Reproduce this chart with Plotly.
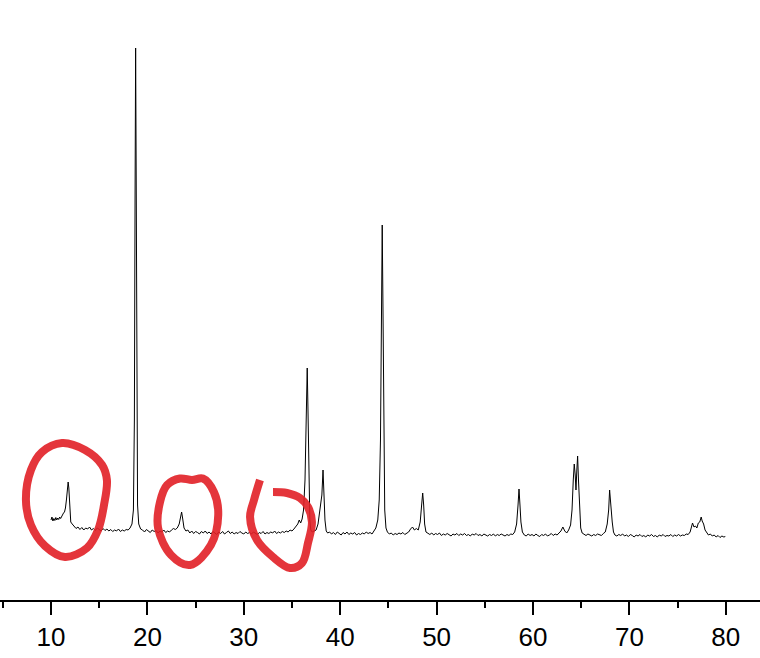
import plotly.graph_objects as go

# XRD scan, 2theta (deg) vs intensity (counts)
two_theta = [
    10.0, 10.1, 10.2, 10.3, 10.4, 10.5, 10.6, 10.7, 10.8, 10.9, 11.0, 11.1, 11.2, 11.3, 11.4, 11.5,
    11.6, 11.7, 11.78, 11.85, 11.95, 12.05, 12.2, 12.4, 12.6, 12.8, 13.0, 13.2, 13.4, 13.6, 13.8,
    14.0, 14.2, 14.4, 14.6, 14.8, 15.0, 15.2, 15.4, 15.6, 15.8, 16.0, 16.2, 16.4, 16.6, 16.8, 17.0,
    17.2, 17.4, 17.6, 17.8, 18.0, 18.2, 18.4, 18.55, 18.65, 18.72, 18.78, 18.84, 18.9, 18.98, 19.1,
    19.3, 19.5, 19.7, 19.9, 20.1, 20.3, 20.5, 20.7, 20.9, 21.1, 21.3, 21.5, 21.7, 21.9, 22.1, 22.3,
    22.5, 22.7, 22.9, 23.1, 23.3, 23.45, 23.55, 23.65, 23.8, 24.0, 24.2, 24.4, 24.6, 24.8, 25.0,
    25.2, 25.4, 25.6, 25.8, 26.0, 26.2, 26.4, 26.6, 26.8, 27.0, 27.2, 27.4, 27.6, 27.8, 28.0, 28.2,
    28.4, 28.6, 28.8, 29.0, 29.2, 29.4, 29.6, 29.8, 30.0, 30.2, 30.4, 30.6, 30.8, 31.0, 31.2, 31.4,
    31.6, 31.8, 32.0, 32.2, 32.4, 32.6, 32.8, 33.0, 33.2, 33.4, 33.6, 33.8, 34.0, 34.2, 34.4, 34.6,
    34.8, 35.0, 35.2, 35.4, 35.6, 35.75, 35.9, 36.05, 36.2, 36.35, 36.48, 36.58, 36.66, 36.75,
    36.85, 36.95, 37.1, 37.3, 37.5, 37.7, 37.85, 37.95, 38.1, 38.22, 38.32, 38.42, 38.55, 38.7,
    38.9, 39.1, 39.3, 39.5, 39.7, 39.9, 40.1, 40.3, 40.5, 40.7, 40.9, 41.1, 41.3, 41.5, 41.7, 41.9,
    42.1, 42.3, 42.5, 42.7, 42.9, 43.1, 43.3, 43.5, 43.7, 43.9, 44.05, 44.18, 44.28, 44.36, 44.44,
    44.52, 44.62, 44.75, 44.9, 45.1, 45.3, 45.5, 45.7, 45.9, 46.1, 46.3, 46.5, 46.7, 46.9, 47.1,
    47.3, 47.5, 47.7, 47.9, 48.1, 48.3, 48.45, 48.56, 48.66, 48.76, 48.9, 49.1, 49.3, 49.5, 49.7,
    49.9, 50.1, 50.3, 50.5, 50.7, 50.9, 51.1, 51.3, 51.5, 51.7, 51.9, 52.1, 52.3, 52.5, 52.7, 52.9,
    53.1, 53.3, 53.5, 53.7, 53.9, 54.1, 54.3, 54.5, 54.7, 54.9, 55.1, 55.3, 55.5, 55.7, 55.9, 56.1,
    56.3, 56.5, 56.7, 56.9, 57.1, 57.3, 57.5, 57.7, 57.9, 58.1, 58.3, 58.45, 58.55, 58.65, 58.75,
    58.9, 59.1, 59.3, 59.5, 59.7, 59.9, 60.1, 60.3, 60.5, 60.7, 60.9, 61.1, 61.3, 61.5, 61.7, 61.9,
    62.1, 62.3, 62.5, 62.7, 62.9, 63.1, 63.3, 63.5, 63.7, 63.9, 64.05, 64.18, 64.28, 64.38, 64.46,
    64.55, 64.63, 64.72, 64.82, 64.95, 65.1, 65.3, 65.5, 65.7, 65.9, 66.1, 66.3, 66.5, 66.7, 66.9,
    67.1, 67.3, 67.5, 67.7, 67.85, 67.95, 68.05, 68.12, 68.22, 68.35, 68.5, 68.7, 68.9, 69.1, 69.3,
    69.5, 69.7, 69.9, 70.1, 70.3, 70.5, 70.7, 70.9, 71.1, 71.3, 71.5, 71.7, 71.9, 72.1, 72.3, 72.5,
    72.7, 72.9, 73.1, 73.3, 73.5, 73.7, 73.9, 74.1, 74.3, 74.5, 74.7, 74.9, 75.1, 75.3, 75.5, 75.7,
    75.9, 76.1, 76.3, 76.45, 76.55, 76.7, 76.85, 77.0, 77.15, 77.3, 77.45, 77.55, 77.7, 77.85, 78.0,
    78.2, 78.4, 78.6, 78.8, 79.0, 79.2, 79.4, 79.6, 79.8, 79.95,
]
counts = [
    800, 830, 790, 815, 795, 825, 800, 820, 805, 830, 815, 840, 850, 870, 880, 920,
    1000, 1120, 1180, 1120, 900, 780, 760, 735, 715, 730, 705, 725, 700, 720, 710,
    730, 700, 715, 695, 720, 700, 690, 715, 695, 710, 690, 705, 685, 700, 690, 710,
    685, 700, 690, 705, 700, 720, 760, 900, 1800, 4000, 5520, 4200, 1900, 950, 760,
    710, 700, 680, 705, 690, 675, 700, 685, 695, 670, 690, 680, 700, 675, 690, 680,
    700, 715, 705, 720, 760, 830, 880, 820, 720, 690, 700, 670, 690, 665, 685,
    675, 660, 685, 670, 690, 665, 680, 660, 685, 670, 655, 680, 665, 685, 660, 675,
    690, 665, 680, 660, 675, 665, 685, 670, 660, 680, 665, 675, 660, 680, 670, 655,
    675, 665, 685, 660, 675, 665, 680, 670, 690, 665, 680, 670, 685, 675, 690, 680,
    700, 690, 710, 730, 760, 800, 770, 810, 900, 1200, 1800, 2320, 1900, 1100,
    800, 700, 680, 690, 700, 760, 880, 920, 1050, 1300, 1050, 800, 690, 670,
    680, 660, 675, 655, 680, 665, 650, 675, 660, 680, 655, 670, 660, 675, 650, 665,
    655, 670, 660, 680, 665, 675, 660, 690, 720, 800, 1000, 1600, 2800, 3750, 2900,
    1500, 900, 720, 680, 660, 670, 650, 665, 655, 670, 660, 675, 655, 670, 680,
    710, 730, 700, 715, 700, 780, 950, 1070, 950, 760, 680, 665, 655, 670, 650,
    665, 655, 670, 645, 660, 650, 665, 655, 640, 660, 650, 665, 645, 660, 650, 665,
    645, 655, 640, 660, 650, 665, 645, 655, 640, 660, 650, 640, 655, 645, 660, 640,
    655, 645, 660, 650, 640, 655, 645, 660, 655, 680, 760, 950, 1110, 950, 780,
    680, 650, 640, 660, 645, 655, 640, 660, 645, 635, 655, 645, 660, 640, 650, 665,
    645, 660, 650, 670, 690, 730, 690, 670, 700, 750, 900, 1200, 1360, 1250, 1100,
    1300, 1440, 1200, 900, 720, 670, 655, 645, 660, 650, 640, 655, 645, 660, 650,
    645, 665, 680, 760, 900, 1100, 950, 900, 780, 680, 650, 640, 655, 645, 660,
    640, 650, 635, 655, 645, 630, 650, 640, 655, 635, 645, 630, 650, 640, 655, 635,
    645, 630, 650, 640, 655, 635, 645, 640, 655, 635, 650, 640, 655, 640, 650, 645,
    660, 655, 680, 740, 770, 730, 740, 720, 770, 780, 830, 790, 760, 700, 680,
    650, 660, 640, 650, 630, 645, 625, 640, 630, 635,
]

# hand-drawn red rings on the picture, in the same (2theta, counts) units
ring1_x = [11.14, 13.53, 15.30, 15.80, 15.50, 14.88, 13.73, 11.45, 9.38, 7.92, 7.40, 7.92, 9.07, 11.14]
ring1_y = [1570, 1500, 1350, 1200, 950, 700, 520, 430, 540, 750, 1000, 1300, 1480, 1570]
ring2_x = [22.04, 23.38, 24.63, 25.76, 26.90, 27.35, 26.59, 24.42, 22.45, 21.11, 21.31, 22.04]
ring2_y = [1150, 1215, 1200, 1215, 1080, 850, 550, 350, 450, 720, 980, 1150]
ring3_x = [31.68, 31.06, 30.65, 31.37, 33.03, 34.79, 36.04, 36.66, 37.07, 36.66, 35.83, 34.48, 33.03]
ring3_y = [1200, 1000, 830, 600, 430, 320, 370, 570, 780, 930, 1020, 1070, 1080]

fig = go.Figure()
fig.add_trace(go.Scatter(x=two_theta, y=counts, mode='lines',
                         line=dict(color='black', width=1), showlegend=False))

for rx, ry in [(ring1_x, ring1_y), (ring2_x, ring2_y), (ring3_x, ring3_y)]:
    fig.add_trace(go.Scatter(x=rx, y=ry, mode='lines',
                             line=dict(color='rgb(226,32,38)', width=8, shape='spline', smoothing=1.0),
                             opacity=0.9, hoverinfo='skip', showlegend=False))

fig.update_layout(
    width=760, height=658,
    margin=dict(l=0, r=0, t=0, b=58),
    paper_bgcolor='white', plot_bgcolor='white',
    font=dict(family='Arial, Liberation Sans, sans-serif', color='black'),
)
fig.update_xaxes(
    range=[4.71, 83.55], showgrid=False, zeroline=False,
    showline=True, linecolor='black', linewidth=2,
    ticks='outside', ticklen=13, tickwidth=2, tickcolor='black',
    tick0=0, dtick=10, tickfont=dict(size=26),
    minor=dict(ticks='outside', ticklen=6, tickwidth=2, tickcolor='black', dtick=5, tick0=0),
)
fig.update_yaxes(range=[0, 6000], visible=False, showgrid=False, zeroline=False)

# drop the page's default body margin so the figure sits at the window's corner
fig.write_html("out.html", config={'displayModeBar': False},
               post_script="document.body.style.margin='0';")
